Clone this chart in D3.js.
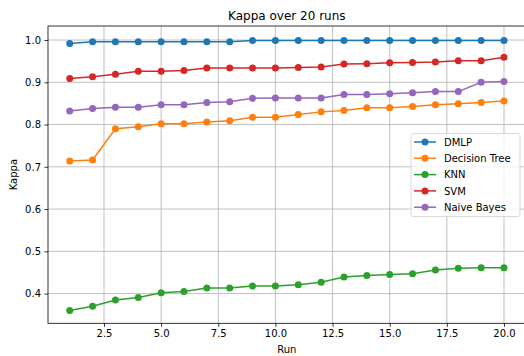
<!DOCTYPE html>
<html><head><meta charset="utf-8">
<script src="https://cdn.jsdelivr.net/npm/d3@7"></script>
<style>body{margin:0;background:#fff}svg{display:block}text{font-family:"DejaVu Sans",sans-serif;fill:#000}</style>
</head><body>
<svg id="c" width="524" height="356"></svg>
<script>
const runs = d3.range(1, 21);
const seriesNames = ["DMLP", "Decision Tree", "KNN", "SVM", "Naive Bayes"];
const colors = ["#1f77b4", "#ff7f0e", "#2ca02c", "#d62728", "#9467bd"];
const dmlp = [0.992,0.996,0.996,0.996,0.996,0.996,0.996,0.996,0.999,0.999,0.999,0.999,0.999,0.999,0.999,0.999,0.999,0.999,0.999,0.999];
const decisionTree = [0.714,0.716,0.790,0.795,0.802,0.802,0.806,0.809,0.817,0.817,0.824,0.830,0.833,0.840,0.840,0.843,0.847,0.849,0.852,0.856];
const knn = [0.360,0.370,0.385,0.391,0.402,0.405,0.413,0.413,0.418,0.418,0.421,0.427,0.439,0.443,0.445,0.447,0.456,0.460,0.461,0.461];
const svm = [0.909,0.913,0.919,0.926,0.926,0.928,0.934,0.934,0.934,0.934,0.935,0.936,0.943,0.944,0.946,0.947,0.948,0.951,0.951,0.959];
const naiveBayes = [0.832,0.838,0.841,0.841,0.847,0.847,0.852,0.854,0.862,0.863,0.863,0.863,0.871,0.871,0.873,0.875,0.878,0.878,0.900,0.902];
const xTicks = [2.5, 5.0, 7.5, 10.0, 12.5, 15.0, 17.5, 20.0];
const yTicks = [0.4, 0.5, 0.6, 0.7, 0.8, 0.9, 1.0];
const allSeries = [dmlp, decisionTree, knn, svm, naiveBayes];

const svg = d3.select("#c");
const L = 48, R = 525.7, T = 26, B = 323.3;
const x = d3.scaleLinear().domain([0.05, 20.95]).range([L, R]);
const y = d3.scaleLinear().domain([0.3297, 1.0332]).range([B, T]);

// grid
const g = svg.append("g");
g.selectAll(".gx").data(xTicks).enter().append("line")
  .attr("x1", d => x(d)).attr("x2", d => x(d)).attr("y1", T).attr("y2", B)
  .attr("stroke", "#b0b0b0").attr("stroke-width", 0.8);
g.selectAll(".gy").data(yTicks).enter().append("line")
  .attr("x1", L).attr("x2", R).attr("y1", d => y(d)).attr("y2", d => y(d))
  .attr("stroke", "#b0b0b0").attr("stroke-width", 0.8);

// axes
const xAxis = d3.axisBottom(x).tickValues(xTicks).tickFormat(d3.format(".1f")).tickSize(3.5).tickPadding(3.5);
const yAxis = d3.axisLeft(y).tickValues(yTicks).tickFormat(d3.format(".1f")).tickSize(3.5).tickPadding(3.5);
const ax = svg.append("g").attr("transform", `translate(0,${B})`).call(xAxis);
const ay = svg.append("g").attr("transform", `translate(${L},0)`).call(yAxis);
[ax, ay].forEach(a => {
  a.select(".domain").remove();
  a.selectAll("text").attr("font-size", 10).attr("font-family", "DejaVu Sans").attr("fill", "#000");
  a.selectAll("line").attr("stroke", "#000").attr("stroke-width", 0.8);
});

// lines
const line = d3.line().x((d, i) => x(runs[i])).y(d => y(d));
allSeries.forEach((s, k) => {
  svg.append("path").datum(s).attr("d", line).attr("fill", "none")
    .attr("stroke", colors[k]).attr("stroke-width", 1.5);
  svg.append("g").selectAll("circle").data(s).enter().append("circle")
    .attr("cx", (d, i) => x(runs[i])).attr("cy", d => y(d)).attr("r", 3.5)
    .attr("fill", colors[k]);
});

// frame
svg.append("rect").attr("x", L).attr("y", T).attr("width", R - L).attr("height", B - T)
  .attr("fill", "none").attr("stroke", "#000").attr("stroke-width", 0.8);

// title & labels
svg.append("text").attr("x", (L + R) / 2).attr("y", 20).attr("text-anchor", "middle")
  .attr("font-size", 12).text("Kappa over 20 runs");
svg.append("text").attr("x", (L + R) / 2).attr("y", 353).attr("text-anchor", "middle")
  .attr("font-size", 10).text("Run");
svg.append("text").attr("transform", `translate(17,${(T + B) / 2}) rotate(-90)`).attr("text-anchor", "middle")
  .attr("font-size", 10).text("Kappa");

// legend
const lg = svg.append("g").attr("transform", "translate(411,133.5)");
lg.append("rect").attr("width", 109).attr("height", 83).attr("rx", 2)
  .attr("fill", "#fff").attr("fill-opacity", 0.8).attr("stroke", "#d0d0d0").attr("stroke-width", 0.8);
seriesNames.forEach((n, k) => {
  const yy = 8.5 + k * 16.3;
  lg.append("line").attr("x1", 3).attr("x2", 25).attr("y1", yy).attr("y2", yy)
    .attr("stroke", colors[k]).attr("stroke-width", 1.5);
  lg.append("circle").attr("cx", 14).attr("cy", yy).attr("r", 3.5).attr("fill", colors[k]);
  lg.append("text").attr("x", 33).attr("y", yy + 3.6).attr("font-size", 10).text(n);
});
</script>
</body></html>
